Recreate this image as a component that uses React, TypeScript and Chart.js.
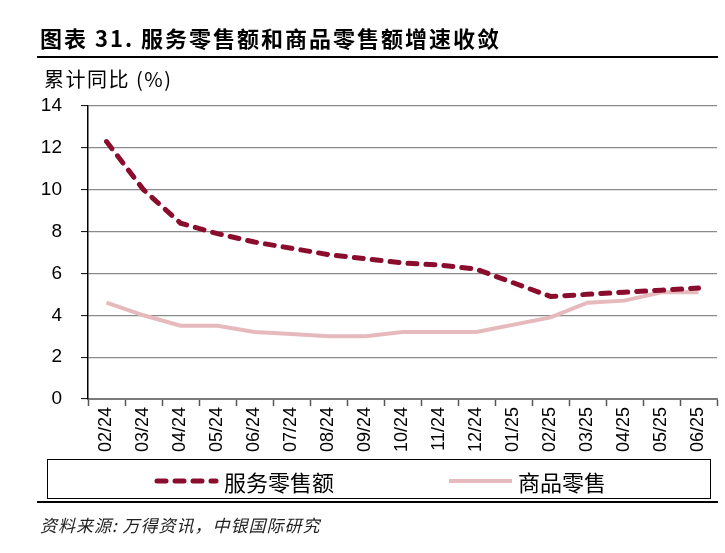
import React, { useEffect, useRef } from "react";
import { Chart, registerables } from "chart.js";

Chart.register(...registerables);

const categories = [
  "02/24", "03/24", "04/24", "05/24", "06/24", "07/24", "08/24", "09/24",
  "10/24", "11/24", "12/24", "01/25", "02/25", "03/25", "04/25", "05/25", "06/25",
];
const serviceRetail: (number | null)[] = [12.3, 10.0, 8.4, 7.9, 7.5, 7.2, 6.9, 6.7, 6.5, 6.4, 6.2, null, 4.9, 5.0, 5.1, 5.2, 5.3];
const goodsRetail: (number | null)[] = [4.6, 4.0, 3.5, 3.5, 3.2, 3.1, 3.0, 3.0, 3.2, 3.2, 3.2, null, 3.9, 4.6, 4.7, 5.1, 5.1];
const yTicks = [0, 2, 4, 6, 8, 10, 12, 14];

const serviceLabel = "服务零售额";
const goodsLabel = "商品零售";
const titleText = "图表 31. 服务零售额和商品零售额增速收敛";
const yTitle = "累计同比 (%)";
const sourceText = "资料来源: 万得资讯，中银国际研究";

const SERVICE_COLOR = "#8B0D2E";
const GOODS_COLOR = "#E6B9BD";
const CJK = '"Noto Sans CJK SC", "Liberation Sans", sans-serif';
const ARIAL = '"Liberation Sans", Arial, sans-serif';

export default function App() {
  const canvasRef = useRef<HTMLCanvasElement | null>(null);

  useEffect(() => {
    if (!canvasRef.current) return;
    const chart = new Chart(canvasRef.current, {
      type: "line",
      data: {
        labels: categories,
        datasets: [
          {
            label: serviceLabel,
            data: serviceRetail,
            borderColor: SERVICE_COLOR,
            backgroundColor: SERVICE_COLOR,
            borderWidth: 5,
            borderDash: [9, 9],
            borderCapStyle: "round",
            pointRadius: 0,
            tension: 0,
            spanGaps: true,
            order: 1,
          },
          {
            label: goodsLabel,
            data: goodsRetail,
            borderColor: GOODS_COLOR,
            backgroundColor: GOODS_COLOR,
            borderWidth: 4,
            pointRadius: 0,
            tension: 0,
            spanGaps: true,
            order: 2,
          },
        ],
      },
      options: {
        responsive: false,
        animation: false,
        devicePixelRatio: 1,
        layout: { padding: { top: 106, right: 8, left: 0, bottom: 0 } },
        plugins: { legend: { display: false }, tooltip: { enabled: false } },
        scales: {
          x: {
            offset: true,
            grid: {
              display: true,
              offset: true,
              drawOnChartArea: false,
              drawTicks: true,
              tickLength: 7,
              tickColor: "#555",
              tickWidth: 1.5,
            },
            border: { display: true, color: "#7a7a7a", width: 2 },
            ticks: {
              autoSkip: false,
              minRotation: 90,
              maxRotation: 90,
              padding: 1,
              color: "#000",
              font: { family: ARIAL, size: 18 },
            },
            afterFit: (scale: any) => {
              scale.height = 154;
            },
          },
          y: {
            min: 0,
            max: 14,
            afterBuildTicks: (scale: any) => {
              scale.ticks = yTicks.map((v) => ({ value: v }));
            },
            grid: {
              color: (ctx: any) => (ctx.tick && ctx.tick.value === 0 ? "rgba(0,0,0,0)" : "#8a8a8a"),
              lineWidth: 1.2,
              borderDash: [1.5, 1.5],
              drawTicks: true,
              tickLength: 7,
              tickColor: "#000",
              tickBorderDash: [],
              tickWidth: 1,
            },
            border: { display: true, color: "#000", width: 1.5 },
            ticks: {
              padding: 19,
              color: "#000",
              font: { family: ARIAL, size: 19 },
            },
            afterFit: (scale: any) => {
              scale.width = 88;
            },
          },
        },
      },
    });
    return () => chart.destroy();
  }, []);

  return (
    <div style={{ position: "fixed", left: 0, top: 0, width: 725, height: 553, background: "#fff", overflow: "hidden" }}>
      <canvas ref={canvasRef} width={725} height={553} style={{ position: "absolute", left: 0, top: 0 }} />
      <div
        style={{
          position: "absolute", left: 40, top: 22, fontFamily: CJK, fontWeight: 700,
          fontSize: 22, letterSpacing: 2, lineHeight: "30px", color: "#000", whiteSpace: "nowrap",
        }}
      >
        {titleText}
      </div>
      <div style={{ position: "absolute", left: 37, top: 56, width: 681, height: 2, background: "#000" }} />
      <div
        style={{
          position: "absolute", left: 44, top: 66, fontFamily: CJK, fontSize: 20, letterSpacing: 1.5,
          lineHeight: "26px", color: "#000", whiteSpace: "nowrap",
        }}
      >
        {yTitle}
      </div>
      <div
        style={{
          position: "absolute", left: 47, top: 459, width: 662, height: 38,
          border: "1.5px solid #000", boxSizing: "content-box",
        }}
      />
      <svg style={{ position: "absolute", left: 0, top: 0 }} width={725} height={553}>
        <line x1={157} y1={481} x2={216} y2={481} stroke={SERVICE_COLOR} strokeWidth={5} strokeLinecap="round" strokeDasharray="9 9" />
        <line x1={449} y1={481} x2={512} y2={481} stroke={GOODS_COLOR} strokeWidth={4} />
      </svg>
      <div
        style={{
          position: "absolute", left: 224, top: 466, fontFamily: CJK, fontSize: 22,
          lineHeight: "30px", color: "#000", whiteSpace: "nowrap",
        }}
      >
        {serviceLabel}
      </div>
      <div
        style={{
          position: "absolute", left: 518, top: 466, fontFamily: CJK, fontSize: 22,
          lineHeight: "30px", color: "#000", whiteSpace: "nowrap",
        }}
      >
        {goodsLabel}
      </div>
      <div style={{ position: "absolute", left: 37, top: 501, width: 681, height: 2, background: "#000" }} />
      <div
        style={{
          position: "absolute", left: 40, top: 513, fontFamily: CJK, fontSize: 17, letterSpacing: 1,
          fontStyle: "italic", lineHeight: "24px", color: "#222", whiteSpace: "nowrap",
        }}
      >
        {sourceText}
      </div>
    </div>
  );
}
